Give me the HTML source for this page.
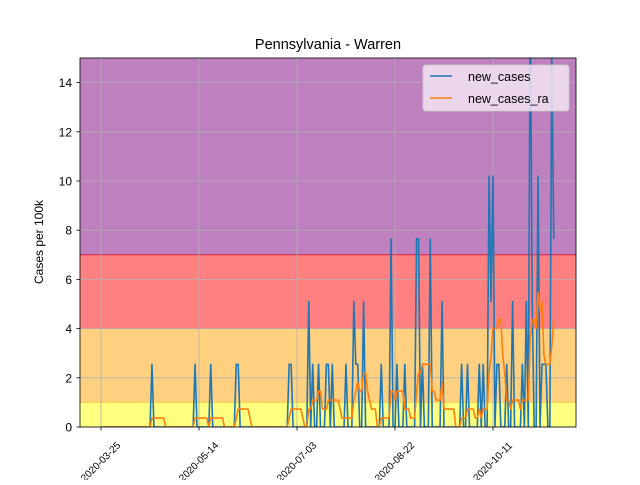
<!DOCTYPE html>
<html><head><meta charset="utf-8"><style>
body{margin:0;background:#fff;}
svg text{font-family:"Liberation Sans","DejaVu Sans",sans-serif;}
</style></head><body>
<svg width="640" height="480" xmlns="http://www.w3.org/2000/svg">
<defs><clipPath id="plotclip"><rect x="80" y="58" width="496" height="369"/></clipPath></defs>
<g id="bands"></g>
<g id="grid"></g>
<g id="series" clip-path="url(#plotclip)"></g>
<rect x="80" y="58" width="496" height="369" fill="none" stroke="#000" stroke-width="0.8"/>
<g id="axes"></g>
<text x="328" y="49" text-anchor="middle" font-size="14.5">Pennsylvania - Warren</text>
<text transform="translate(43,242) rotate(-90)" text-anchor="middle" font-size="12">Cases per 100k</text>
<g>
<rect x="423" y="65" width="146" height="46" rx="3" fill="#f2e5f2" fill-opacity="0.85" stroke="#ccc" stroke-width="0.8"/>
<line x1="430" y1="76" x2="452" y2="76" stroke="#1f77b4" stroke-width="1.6"/>
<text x="468" y="81" font-size="12.5">new_cases</text>
<line x1="430" y1="98" x2="452" y2="98" stroke="#ff7f0e" stroke-width="1.6"/>
<text x="468" y="103" font-size="12.5">new_cases_ra</text>
</g>
</svg>
<script>
// data: day offsets from 2020-03-25 and nonzero case values per 100k
const caseDays =   [26,48,56,69,70,96,97,106,108,111,115,116,118,125,129,130,131,134,143,148,151,155,161,162,164,168,174,184,187,193,195,198,199,200,202,203,207,210,215,217,219,220,223,225,226,227,230,231];
const caseValues = [2.55,2.55,2.55,2.55,2.55,2.55,2.55,5.1,2.55,2.55,2.55,2.55,2.55,2.55,5.1,2.55,2.55,5.1,2.55,7.65,2.55,2.55,7.65,7.65,2.55,7.65,5.1,2.55,2.55,2.55,2.55,10.2,5.1,10.2,2.55,2.55,2.55,5.1,2.55,5.1,17.85,5.1,10.2,2.55,2.55,2.55,15.3,7.65];
const numDays = 232;
const xTickDays = [0,50,100,150,200];
const xTickLabels = ["2020-03-25","2020-05-14","2020-07-03","2020-08-22","2020-10-11"];
const yTicks = [0,2,4,6,8,10,12,14];
const bandEdges = [0,1,4,7,15];
const bandColors = ["#ffff80","#ffd080","#ff8080","#bf80bf"];

const NS="http://www.w3.org/2000/svg";
const X=d=>101+d*1.96;
const Y=v=>427-v*24.6;
function mk(tag,attrs,parent){const e=document.createElementNS(NS,tag);for(const k in attrs)e.setAttribute(k,attrs[k]);parent.appendChild(e);return e;}

const cases=new Array(numDays).fill(0);
caseDays.forEach((d,i)=>{cases[d]=caseValues[i];});
const ra=cases.map((v,i)=>{let s=0;for(let j=Math.max(0,i-6);j<=i;j++){s+=cases[j];}return s/7;});

const bands=document.getElementById('bands');
for(let i=0;i<bandColors.length;i++){
  const r=mk('rect',{x:80,y:Y(bandEdges[i+1]),width:496,height:Y(bandEdges[i])-Y(bandEdges[i+1]),fill:bandColors[i]},bands);
  
  
}
mk('line',{x1:80,x2:576,y1:Y(1),y2:Y(1),stroke:"#f5d040","stroke-width":1},bands);
mk('line',{x1:80,x2:576,y1:Y(7),y2:Y(7),stroke:"#d02040","stroke-width":1},bands);

const grid=document.getElementById('grid');
const axes=document.getElementById('axes');
yTicks.forEach(v=>{
  mk('line',{x1:80,x2:576,y1:Y(v),y2:Y(v),stroke:"#b0b0b0","stroke-width":0.8},grid);
  mk('line',{x1:76.5,x2:80,y1:Y(v),y2:Y(v),stroke:"#000","stroke-width":0.8},axes);
  const t=mk('text',{x:72,y:Y(v)+4.5,"text-anchor":"end","font-size":"12"},axes);
  t.textContent=v;
  
  
});
xTickDays.forEach((d,i)=>{
  mk('line',{x1:X(d),x2:X(d),y1:58,y2:427,stroke:"#b0b0b0","stroke-width":0.8},grid);
  mk('line',{x1:X(d),x2:X(d),y1:427,y2:430.5,stroke:"#000","stroke-width":0.8},axes);
  const cx=X(d)+2, cy=464;
  const t=mk('text',{x:cx,y:cy,"text-anchor":"middle","font-size":"10",transform:`rotate(-45 ${cx} ${cy})`},axes);
  t.textContent=xTickLabels[i];
  
  
});

const series=document.getElementById('series');
const p1=mk('polyline',{points:cases.map((v,i)=>X(i)+','+Y(v)).join(' '),fill:"none",stroke:"#1f77b4","stroke-width":1.6,"stroke-linejoin":"round"},series);


const p2=mk('polyline',{points:ra.map((v,i)=>X(i)+','+Y(v)).join(' '),fill:"none",stroke:"#ff7f0e","stroke-width":1.6,"stroke-linejoin":"round"},series);


</script>
</body></html>
